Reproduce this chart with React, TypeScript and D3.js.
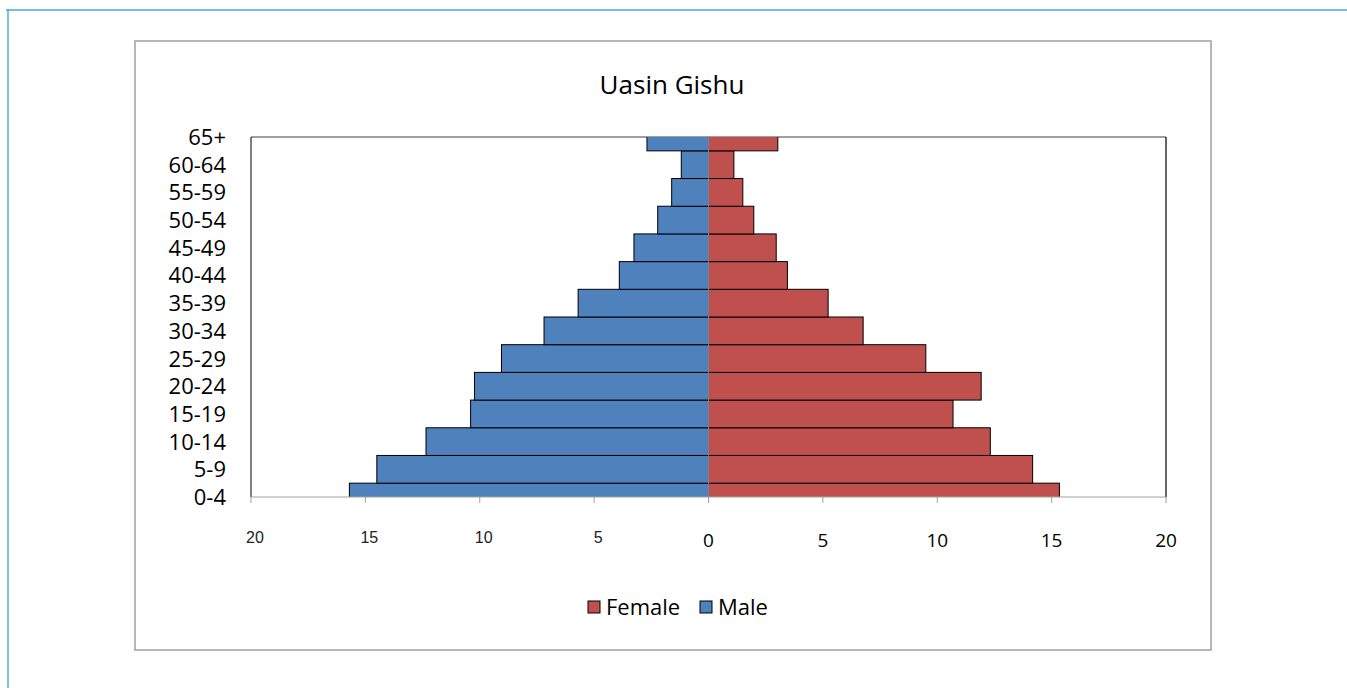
import React from "react";
import * as d3 from "d3";

const ageGroups = ["0-4", "5-9", "10-14", "15-19", "20-24", "25-29", "30-34", "35-39", "40-44", "45-49", "50-54", "55-59", "60-64", "65+"];
const maleValues = [15.7, 14.5, 12.35, 10.4, 10.23, 9.05, 7.19, 5.7, 3.9, 3.26, 2.22, 1.61, 1.19, 2.69];
const femaleValues = [15.34, 14.17, 12.32, 10.69, 11.92, 9.5, 6.76, 5.23, 3.45, 2.96, 1.98, 1.5, 1.11, 3.03];
const xTickValues = [-20, -15, -10, -5, 0, 5, 10, 15, 20];
const title = "Uasin Gishu";
const seriesNames = ["Female", "Male"];

const W = 1347;
const H = 688;
const plot = { left: 251, right: 1166, top: 137, bottom: 497 };
const BLUE = "#4f81bd";
const RED = "#c0504d";
const FONT = "'Open Sans', sans-serif";

export default function App() {
  const x = d3.scaleLinear().domain([-20, 20]).range([plot.left, plot.right]);
  const y = d3.scalePoint<string>().domain(ageGroups).range([plot.bottom, plot.top]);
  const step = y.step();
  const x0 = x(0);

  return (
    <svg width={W} height={H} style={{ position: "absolute", left: 0, top: 0, background: "#fff" }}>
      <defs>
        <clipPath id="plotClip">
          <rect x={plot.left} y={plot.top} width={plot.right - plot.left} height={plot.bottom - plot.top} />
        </clipPath>
      </defs>
      {/* page frame */}
      <line x1={6} x2={W} y1={10} y2={10} stroke="#4aa3dc" strokeWidth={1.5} />
      <line x1={8} x2={8} y1={10} y2={H} stroke="#2f93d6" strokeWidth={1.2} />
      {/* chart box */}
      <rect x={135} y={41} width={1076} height={609} fill="#fff" stroke="#a6a6a6" strokeWidth={1.6} />

      <text x={672} y={94} textAnchor="middle" fontFamily={FONT} fontSize={26} fill="#000">{title}</text>

      {/* plot frame */}
      <line x1={plot.left} x2={plot.right} y1={plot.top} y2={plot.top} stroke="#7f7f7f" strokeWidth={1.5} />
      <line x1={plot.left} x2={plot.left} y1={plot.top} y2={plot.bottom} stroke="#000" strokeWidth={1} />
      <line x1={plot.right} x2={plot.right} y1={plot.top} y2={plot.bottom} stroke="#000" strokeWidth={1.2} />

      <g clipPath="url(#plotClip)">
        {ageGroups.map((g, i) => (
          <rect key={"m" + g} x={x(-maleValues[i])} y={(y(g) as number) - step / 2}
            width={x0 - x(-maleValues[i])} height={step} fill={BLUE} stroke="#000" strokeWidth={1} />
        ))}
        {ageGroups.map((g, i) => (
          <rect key={"f" + g} x={x0} y={(y(g) as number) - step / 2}
            width={x(femaleValues[i]) - x0} height={step} fill={RED} stroke="#000" strokeWidth={1} />
        ))}
      </g>
      <line x1={x0} x2={x0} y1={plot.top} y2={plot.bottom} stroke="#808080" strokeWidth={1} />

      {/* x axis */}
      <line x1={plot.left} x2={plot.right} y1={plot.bottom} y2={plot.bottom} stroke="#a0a0a0" strokeWidth={1} />
      {xTickValues.map((v) => (
        <g key={"t" + v}>
          <line x1={x(v)} x2={x(v)} y1={plot.bottom} y2={plot.bottom + 6} stroke="#a0a0a0" strokeWidth={1} />
          {v < 0 ? (
            <text x={x(v) + 4} y={543} textAnchor="middle" fontFamily="'Liberation Sans', Arial, sans-serif" fontSize={16} fill="#222">{Math.abs(v)}</text>
          ) : (
            <text x={x(v)} y={547} textAnchor="middle" fontFamily={FONT} fontSize={19} fill="#000">{v}</text>
          )}
        </g>
      ))}

      {/* y labels */}
      {ageGroups.map((g) => (
        <text key={"y" + g} x={226} y={(y(g) as number) + 8} textAnchor="end" fontFamily={FONT} fontSize={22} fill="#000">{g}</text>
      ))}

      {/* legend */}
      <rect x={588} y={601} width={12} height={12} fill={RED} stroke="#000" strokeWidth={1} />
      <text x={606} y={615} fontFamily={FONT} fontSize={22} fill="#000">{seriesNames[0]}</text>
      <rect x={700} y={601} width={12} height={12} fill={BLUE} stroke="#000" strokeWidth={1} />
      <text x={718} y={615} fontFamily={FONT} fontSize={22} fill="#000">{seriesNames[1]}</text>
    </svg>
  );
}
